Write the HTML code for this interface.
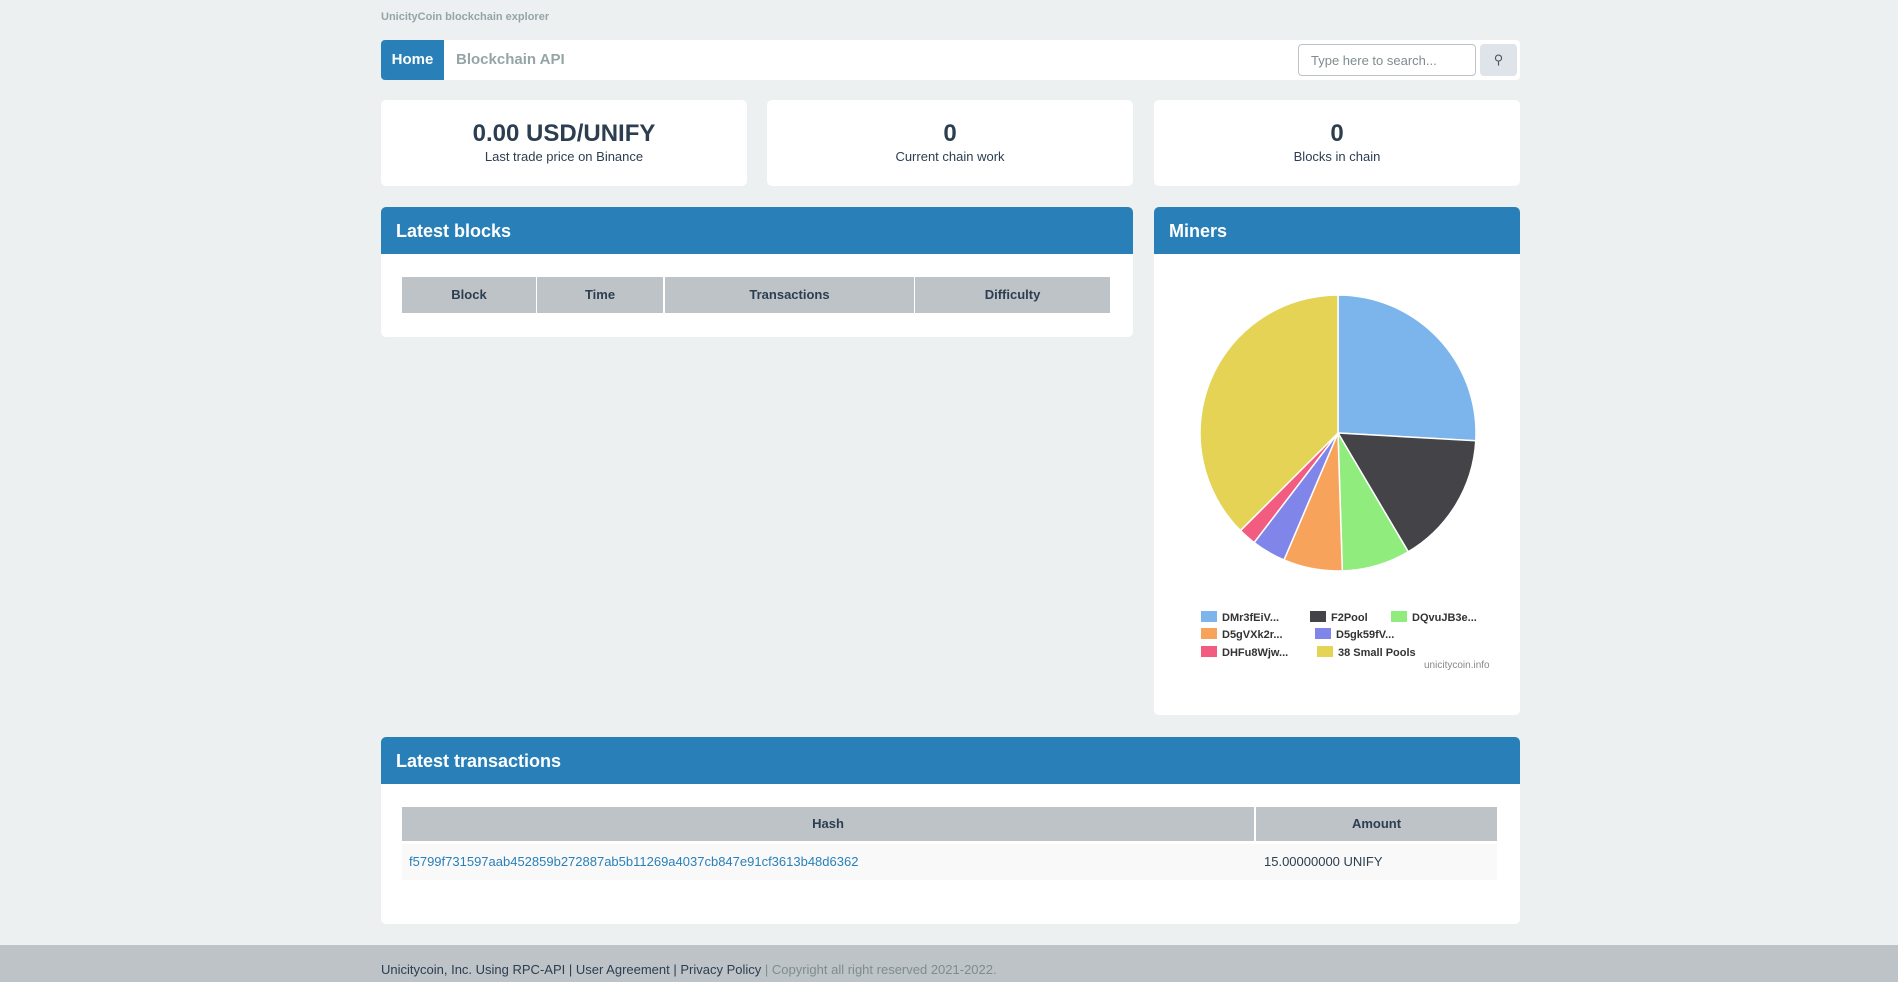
<!DOCTYPE html>
<html><head><meta charset="utf-8"><style>
*{box-sizing:border-box;margin:0;padding:0}
body{width:1898px;height:982px;background:#ecf0f1;font-family:"Liberation Sans",sans-serif;color:#2c3e50;position:relative;overflow:hidden}
.abs{position:absolute}
.card{position:absolute;background:#fff;border-radius:5px}
.ph{position:absolute;left:0;right:0;top:0;height:47px;background:#2980b9;color:#fff;font-weight:bold;font-size:18px;padding:14px 15px;border-radius:5px 5px 0 0}
.th{position:absolute;background:#bdc3c7;font-weight:bold;font-size:13px;text-align:center;line-height:36px;color:#2c3e50}
.stat{text-align:center}
.stat b{display:block;font-size:24px;margin-top:20px}
.stat span{font-size:13px}
</style></head><body>
<div class="abs" style="left:381px;top:11px;font-size:11px;color:#95a5a6;font-weight:bold">UnicityCoin blockchain explorer</div>
<div class="card" style="left:381px;top:40px;width:1139px;height:40px;border-radius:4px">
 <div class="abs" style="left:0;top:0;width:63px;height:40px;background:#2980b9;color:#fff;font-weight:bold;font-size:15px;line-height:40px;text-align:center;border-radius:4px 0 0 4px">Home</div>
 <div class="abs" style="left:75px;top:0;line-height:40px;font-size:15px;color:#95a5a6;font-weight:bold">Blockchain API</div>
 <div class="abs" style="left:917px;top:4px;width:178px;height:32px;border:1px solid #bdc3c7;border-radius:4px;font-size:13px;color:#7f8c8d;padding:8px 12px">Type here to search...</div>
 <div class="abs" style="left:1099px;top:4px;width:37px;height:32px;background:#dfe4ea;border-radius:4px;text-align:center;line-height:32px;font-size:13px;color:#555">&#9906;</div>
</div>
<div class="card stat" style="left:381px;top:100px;width:366px;height:86px"><b>0.00 USD/UNIFY</b><span>Last trade price on Binance</span></div>
<div class="card stat" style="left:767px;top:100px;width:366px;height:86px"><b>0</b><span>Current chain work</span></div>
<div class="card stat" style="left:1154px;top:100px;width:366px;height:86px"><b>0</b><span>Blocks in chain</span></div>

<div class="card" style="left:381px;top:207px;width:752px;height:130px">
 <div class="ph">Latest blocks</div>
 <div class="th" style="left:21px;top:70px;width:134px">Block</div>
 <div class="th" style="left:156px;top:70px;width:126px">Time</div>
 <div class="th" style="left:284px;top:70px;width:249px">Transactions</div>
 <div class="th" style="left:534px;top:70px;width:195px">Difficulty</div>
</div>

<div class="card" style="left:1154px;top:207px;width:366px;height:508px">
 <div class="ph">Miners</div>
 <svg id="pie" class="abs" style="left:0;top:0" width="366" height="508"></svg>
 <div class="abs" style="left:270px;top:453px;font-size:10px;color:#888">unicitycoin.info</div>
</div>

<div class="card" style="left:381px;top:737px;width:1139px;height:187px">
 <div class="ph">Latest transactions</div>
 <div class="th" style="left:21px;top:70px;width:852px;height:34px;line-height:34px">Hash</div>
 <div class="th" style="left:875px;top:70px;width:241px;height:34px;line-height:34px">Amount</div>
 <div class="abs" style="left:21px;top:107px;width:1095px;height:36px;background:#f9f9f9"></div>
 <div class="abs" style="left:28px;top:107px;line-height:36px;font-size:13px;color:#2980b9">f5799f731597aab452859b272887ab5b11269a4037cb847e91cf3613b48d6362</div>
 <div class="abs" style="left:883px;top:107px;line-height:36px;font-size:13px">15.00000000 UNIFY</div>
</div>

<div class="abs" style="left:0;top:945px;width:1898px;height:37px;background:#bdc3c7"></div>
<div class="abs" style="left:381px;top:962px;font-size:13px;color:#2c3e50">Unicitycoin, Inc. Using RPC-API | User Agreement | Privacy Policy <span style="color:#7f8c8d">| Copyright all right reserved 2021-2022.</span></div>

<script>
const labels=["DMr3fEiV...","F2Pool","DQvuJB3e...","D5gVXk2r...","D5gk59fV...","DHFu8Wjw...","38 Small Pools"];
const values=[25.9,15.6,8.0,6.9,4.0,2.1,37.5];
const colors=["#7cb5ec","#434348","#90ed7d","#f7a35c","#8085e9","#f15c80","#e4d354"];
const svg=document.getElementById('pie');const NS="http://www.w3.org/2000/svg";
const cx=184,cy=226,r=138;
const total=values.reduce((a,b)=>a+b,0);
let a0=0;
values.forEach((v,i)=>{
 const a1=a0+v/total*2*Math.PI;
 const x0=cx+r*Math.sin(a0),y0=cy-r*Math.cos(a0),x1=cx+r*Math.sin(a1),y1=cy-r*Math.cos(a1);
 const p=document.createElementNS(NS,'path');
 p.setAttribute('d',`M${cx},${cy}L${x0},${y0}A${r},${r} 0 ${a1-a0>Math.PI?1:0} 1 ${x1},${y1}Z`);
 p.setAttribute('fill',colors[i]);p.setAttribute('stroke','#fff');p.setAttribute('stroke-width','1.5');
 
 
 svg.appendChild(p);a0=a1;
});
const lpos=[[47,409],[156,409],[237,409],[47,426],[161,426],[47,444],[163,444]];
labels.forEach((l,i)=>{
 const g=document.createElementNS(NS,'g');
 
 
 const rc=document.createElementNS(NS,'rect');
 rc.setAttribute('x',lpos[i][0]);rc.setAttribute('y',lpos[i][1]-5);rc.setAttribute('width',16);rc.setAttribute('height',11);rc.setAttribute('fill',colors[i]);
 const t=document.createElementNS(NS,'text');
 t.setAttribute('x',lpos[i][0]+21);t.setAttribute('y',lpos[i][1]+5);t.setAttribute('font-size','11');t.setAttribute('font-weight','bold');t.setAttribute('fill','#333');t.setAttribute('font-family','Liberation Sans, sans-serif');
 t.textContent=l;g.appendChild(rc);g.appendChild(t);svg.appendChild(g);
});
</script>
</body></html>
